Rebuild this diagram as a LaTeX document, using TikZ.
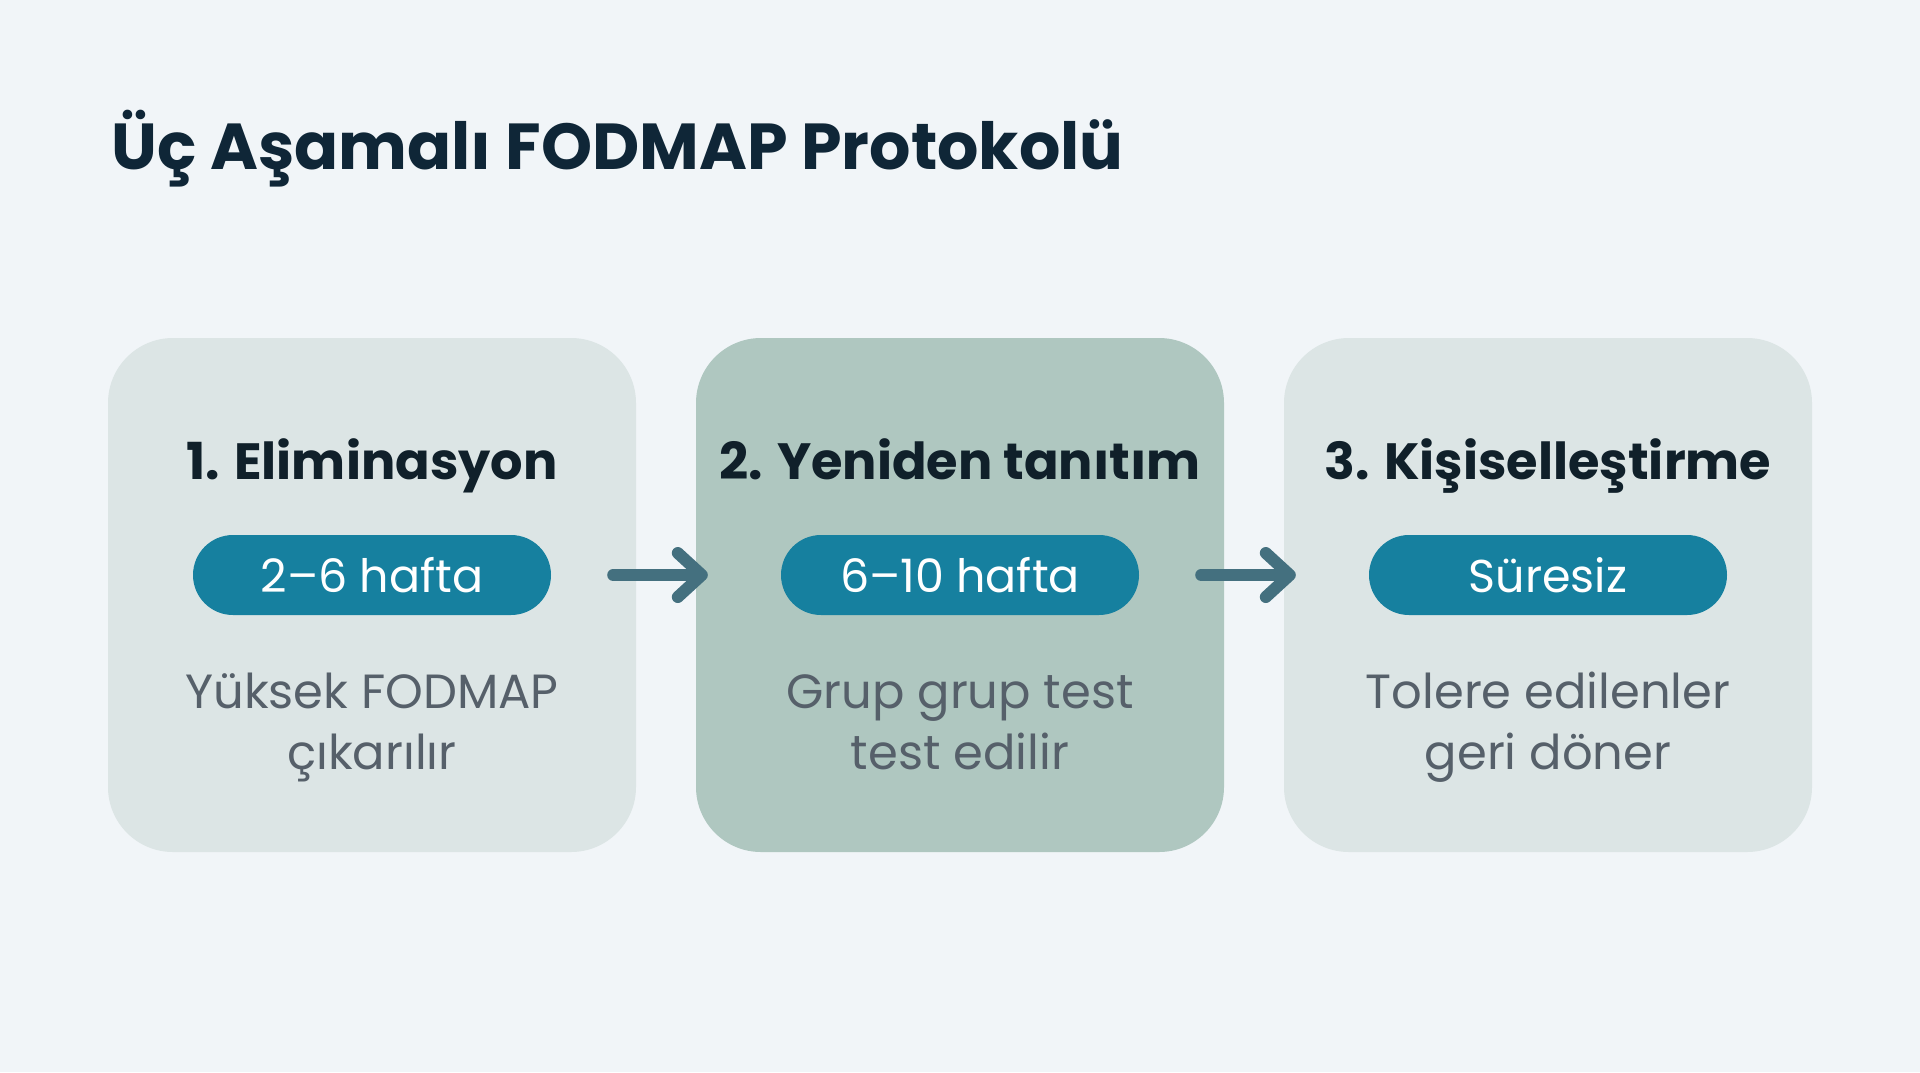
\documentclass[tikz,border=0pt]{standalone}
\usepackage{fontspec}
\setmainfont{Poppins}
\usetikzlibrary{positioning, calc, arrows.meta}

\definecolor{bgcol}{HTML}{F1F5F8}
\definecolor{boxlight}{HTML}{DCE5E5}
\definecolor{boxdark}{HTML}{AFC7C0}
\definecolor{pillcol}{HTML}{16809F}
\definecolor{arrowcol}{HTML}{44707F}
\definecolor{titlecol}{HTML}{0F2637}
\definecolor{headcol}{HTML}{10202A}
\definecolor{bodycol}{HTML}{56606A}

\tikzset{
    stage/.style={rounded corners=65pt, minimum width=528pt, minimum height=514pt, inner sep=0pt},
    pill/.style={fill=pillcol, text=white, rounded corners=40pt, minimum width=358pt, minimum height=80pt, inner sep=0pt, font=\fontsize{46}{50}\selectfont},
    stagehead/.style={anchor=base, text=headcol, font=\fontsize{51}{56}\selectfont\bfseries},
    stagebody/.style={anchor=base, text=bodycol, align=center, font=\fontsize{48}{61}\selectfont},
    flow/.style={draw=arrowcol, line width=12pt, line cap=round, -{Straight Barb[length=24pt, width=44pt, line cap=round, line join=round]}}
}

\begin{document}
\begin{tikzpicture}[x=1pt, y=-1pt]
                \fill[bgcol] (0,0) rectangle (1920,1072);
                \useasboundingbox (0,0) rectangle (1920,1072);
                \node[anchor=base west, text=titlecol, font=\fontsize{65}{70}\selectfont\bfseries] (title) at (108,169) {Üç Aşamalı FODMAP Protokolü};

                \node[stage, fill=boxlight] (S1) at (372,595) {};
                \node[stage, fill=boxdark]  (S2) at (960,595) {};
                \node[stage, fill=boxlight] (S3) at (1548,595) {};

                \node[stagehead] (H1) at (372,479) {1. Eliminasyon};
                \node[stagehead] (H2) at (960,479) {2. Yeniden tanıtım};
                \node[stagehead] (H3) at (1548,479) {3. Kişiselleştirme};

                \node[pill] (P1) at (372,575) {2–6 hafta};
                \node[pill] (P2) at (960,575) {6–10 hafta};
                \node[pill] (P3) at (1548,575) {Süresiz};

                \node[stagebody] (B1) at (372,769) {Yüksek FODMAP\\çıkarılır};
                \node[stagebody] (B2) at (960,769) {Grup grup test\\test edilir};
                \node[stagebody] (B3) at (1548,769) {Tolere edilenler\\geri döner};

                \draw[flow, shorten <=62pt, shorten >=73pt] (P1.east) -- (P2.west);
                \draw[flow, shorten <=62pt, shorten >=73pt] (P2.east) -- (P3.west);
            \end{tikzpicture}
\end{document}
